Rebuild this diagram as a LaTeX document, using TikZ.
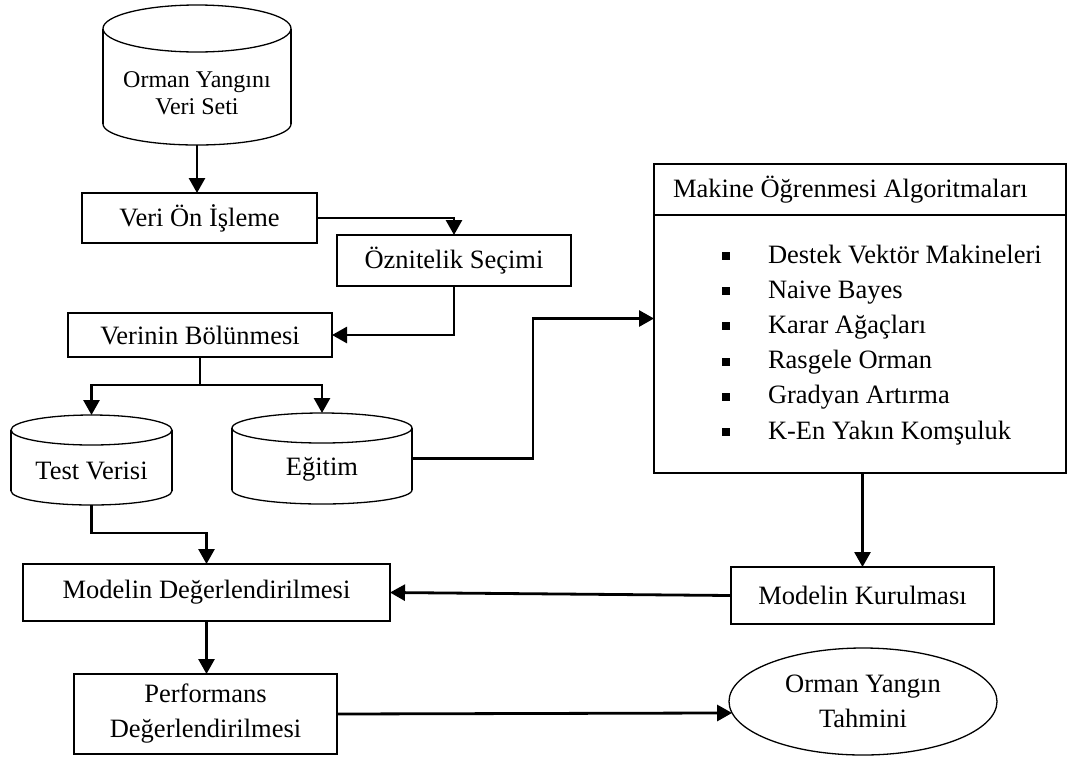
\documentclass[tikz,border=0pt]{standalone}
\usepackage{fontspec}
\setmainfont{Liberation Serif}
\usetikzlibrary{arrows.meta,shapes.geometric}
\begin{document}
\begin{tikzpicture}[x=1pt,y=-1pt,
  every node/.style={font=\fontsize{26.5}{35}\selectfont, inner sep=0pt, outer sep=0pt},
  box/.style={draw, line width=1.3pt, align=center},
  area/.style={inner sep=0pt},
  conn/.style={line width=2.8pt},
  arr/.style={conn, -{Triangle[width=16pt,length=15pt]}},
  cyl/.style={line width=1.3pt},
  bul/.style={fill, minimum size=8pt, inner sep=0pt}]
\useasboundingbox (0,0) rectangle (1067,756);

% ---- cylinders ----
% Orman Yangini Veri Seti
\draw[cyl] (103,124) -- (103,28.5) (291,28.5) -- (291,124);
\draw[cyl] (103,124) arc[start angle=180, end angle=360, x radius=94pt, y radius=21pt];
\draw[cyl] (197,28.5) ellipse[x radius=94pt, y radius=23.5pt];
\node[area, minimum width=188pt, minimum height=140pt] (ds) at (197,75) {};
\node[align=center, font=\fontsize{24}{27}\selectfont] (dst) at (197,93) {Orman Yangını\\Veri Seti};

% Test Verisi
\draw[cyl] (11,491) -- (11,430) (172,430) -- (172,491);
\draw[cyl] (11,491) arc[start angle=180, end angle=360, x radius=80.5pt, y radius=14pt];
\draw[cyl] (91.5,430) ellipse[x radius=80.5pt, y radius=15pt];
\node[area, minimum width=161pt, minimum height=90pt] (test) at (91.5,460) {};
\node (testt) at (91.5,471) {Test Verisi};

% Egitim
\draw[cyl] (232,490) -- (232,428) (412,428) -- (412,490);
\draw[cyl] (232,490) arc[start angle=180, end angle=360, x radius=90pt, y radius=14pt];
\draw[cyl] (322,428) ellipse[x radius=90pt, y radius=15pt];
\node[area, minimum width=180pt, minimum height=91pt] (egitim) at (322,458.5) {};
\node (egitimt) at (322,469) {Eğitim};

% ---- boxes ----
\node[box, minimum width=235pt, minimum height=50pt] (veri) at (199.5,218) {Veri Ön İşleme};
\node[box, minimum width=234pt, minimum height=51pt] (ozn) at (454,260.5) {Öznitelik Seçimi};
\node[box, minimum width=264pt, minimum height=44pt] (verinin) at (200,335) {Verinin Bölünmesi};
\node[box, minimum width=367pt, minimum height=57pt] (model) at (206.5,592.5) {Modelin Değerlendirilmesi};
\node[box, minimum width=263pt, minimum height=80pt] (perf) at (205.5,714) {Performans\\Değerlendirilmesi};
\node[box, minimum width=263pt, minimum height=57pt] (kur) at (862.5,595.5) {Modelin Kurulması};
\node[draw, ellipse, line width=1.3pt, minimum width=268pt, minimum height=107pt, align=center] (ell) at (863,701.5) {Orman Yangın\\Tahmini};

% algorithms box
\node[box, minimum width=412pt, minimum height=309pt] (alg) at (860,318.5) {};
\draw[line width=1.3pt] (alg.west |- 0,215) -- (alg.east |- 0,215);
\node[anchor=west] (algt) at (673,190) {Makine Öğrenmesi Algoritmaları};
\foreach \t [count=\i] in {Destek Vektör Makineleri, Naive Bayes, Karar Ağaçları, Rasgele Orman, Gradyan Artırma, K-En Yakın Komşuluk}{
  \pgfmathsetmacro{\yy}{256+35.2*(\i-1)}
  \node[bul] (b\i) at (726,\yy) {};
  \node[anchor=base west] (t\i) at (768,\yy+7) {\t};
}

% ---- connectors ----
\draw[arr] (ds.south) -- (ds.south |- veri.north);
\draw[arr] (veri.east) -| (ozn.north);
\draw[arr] (ozn.south) |- (verinin.east);
\coordinate (split) at (200,385);
\draw[conn] (verinin.south) -- (split);
\draw[arr] (split) -| (test.north);
\draw[arr] (split) -| (egitim.north);
\draw[arr] (egitim.east) -- ++(121,0) |- (alg.west);
\draw[arr] (test.south) -- ++(0,28) -| (model.north);
\draw[arr] (alg.south -| kur.north) -- (kur.north);
\draw[arr] (kur.west) -- (model.east);
\draw[arr] (model.south) -- (model.south |- perf.north);
\draw[arr] (perf.east) -- (ell.185.7);
\end{tikzpicture}
\end{document}
